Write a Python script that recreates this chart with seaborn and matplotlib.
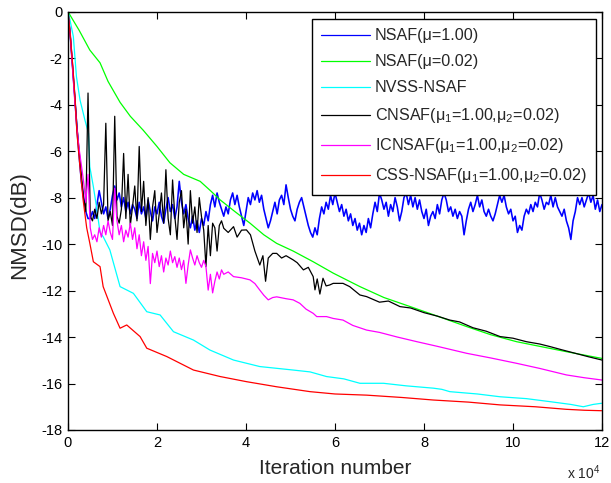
import numpy as np
import pandas as pd
import matplotlib
matplotlib.use("Agg")
import matplotlib.pyplot as plt
import seaborn as sns
from matplotlib.lines import Line2D

sns.set_style("ticks")
plt.rcParams['font.family'] = ['Liberation Sans', 'DejaVu Sans']
plt.rcParams['mathtext.fontset'] = 'custom'
plt.rcParams['mathtext.rm'] = 'Liberation Sans'
plt.rcParams['mathtext.it'] = 'Liberation Sans:italic'
plt.rcParams['mathtext.bf'] = 'Liberation Sans:bold'

# ---------------- data (x in units of 1e4 iterations, y in dB) ----------------
labels = ["NSAF(μ=1.00)", "NSAF(μ=0.02)", "NVSS-NSAF",
          "CNSAF(μ$_1$=1.00,μ$_2$=0.02)",
          "ICNSAF(μ$_1$=1.00,μ$_2$=0.02)",
          "CSS-NSAF(μ$_1$=1.00,μ$_2$=0.02)"]
colors = ["#0000ff", "#00ff00", "#00ffff", "#000000", "#ff00ff", "#ff0000"]

# NSAF(mu=1.00): sampled every 0.05e4 iterations from 0 to 12e4
nsaf1_x = np.round(np.arange(0, 241) * 0.05, 2)
nsaf1_y = [0, -1.0, -2.3, -3.6, -5.0, -6.2, -7.3, -8.0, -8.6, -8.9,
           -8.9, -8.6, -8.9, -8.3, -7.7, -8.2, -8.7, -8.4, -8.9, -8.5, -7.9, -7.5, -8.1, -7.8, -8.4, -8.0, -8.6, -8.2, -8.7, -8.3,
           -8.5, -8.9, -8.2, -8.7, -8.4, -8.9, -8.1, -8.6, -9.0, -8.4, -8.7, -8.2, -8.8, -9.1, -8.5, -8.0, -8.6, -8.3, -8.9, -8.4,
           -7.3, -8.2, -8.7, -8.3, -8.9, -9.3, -8.8, -9.4, -9.0, -9.5, -8.9, -9.2, -8.6, -9.0, -8.3, -7.9, -8.4, -7.8, -8.2, -8.5,
           -8.8, -8.4, -8.7, -8.1, -7.8, -8.3, -7.9, -8.4, -8.8, -9.2, -8.6, -8.0, -8.3, -7.8, -8.1, -7.7, -8.2, -7.9, -8.5, -8.9,
           -9.3, -9.0, -8.6, -8.2, -8.7, -8.1, -7.9, -8.3, -7.45, -8.0, -8.5, -8.8, -9.0, -8.5, -8.2, -8.0, -8.4, -8.8, -9.2, -9.5,
           -9.7, -9.3, -9.6, -8.9, -8.4, -8.7, -8.2, -8.5, -7.9, -8.3, -7.8, -8.2, -8.6, -8.3, -8.8, -8.5, -9.0, -8.7, -9.2, -8.9,
           -9.4, -9.1, -9.6, -9.2, -9.5, -8.9, -9.3, -8.7, -8.2, -8.6, -7.8, -8.1, -8.5, -8.2, -8.8, -8.3, -8.6, -8.0, -8.4, -9.0,
           -8.6, -8.0, -7.8, -8.3, -7.9, -8.4, -8.0, -8.5, -8.1, -8.6, -8.9, -8.5, -9.2, -8.8, -8.6, -8.9, -8.3, -8.7, -8.1, -7.8,
           -8.1, -8.6, -8.4, -8.8, -8.5, -8.9, -8.6, -8.8, -9.6, -9.0, -8.5, -8.2, -8.6, -8.3, -7.9, -8.4, -8.1, -8.6, -8.8, -8.5,
           -8.8, -9.0, -8.7, -8.3, -7.9, -8.2, -7.9, -8.4, -8.7, -8.5, -9.0, -8.8, -9.5, -9.2, -9.4, -8.8, -8.5, -8.7, -8.3, -8.6,
           -8.2, -8.4, -7.8, -8.1, -8.5, -8.2, -8.3, -7.9, -8.4, -8.0, -8.4, -8.6, -8.8, -8.5, -9.0, -9.3, -9.8, -9.0, -8.6, -8.0,
           -8.3, -8.0, -8.4, -8.1, -7.8, -8.2, -7.9, -8.5, -8.1, -8.6, -8.3]

# NSAF(mu=0.02)
nsaf002_x = [0, 0.25, 0.49, 0.72, 0.9, 1.17, 1.4, 1.69, 2.0, 2.29, 2.6, 2.97, 3.2, 3.42, 3.75,
             4.09, 4.4, 4.69, 5.06, 5.51, 5.96, 6.56, 7.1, 7.69, 8.3, 8.96, 9.5, 10.08, 10.6, 11.2, 12.0]
nsaf002_y = [0, -0.8, -1.65, -2.2, -3.0, -3.9, -4.5, -5.1, -5.8, -6.5, -7.0, -7.3, -7.7, -8.1, -8.6,
             -9.1, -9.6, -9.97, -10.3, -10.76, -11.25, -11.83, -12.3, -12.69, -13.1, -13.55, -13.9, -14.2, -14.4, -14.63, -14.92]

# NVSS-NSAF
nvss_x = [0, 0.045, 0.12, 0.19, 0.27, 0.38, 0.46, 0.49, 0.57, 0.64, 0.72, 0.79, 0.94, 1.17, 1.47,
          1.77, 2.07, 2.37, 2.82, 3.19, 3.72, 4.31, 5.06, 5.44, 5.81, 6.2, 6.56, 7.09, 7.6, 8.21,
          8.4, 8.58, 9.2, 9.71, 10.3, 10.83, 11.3, 11.58, 11.8, 11.99]
nvss_y = [0, -0.36, -1.07, -2.8, -3.8, -4.66, -5.23, -6.67, -7.53, -8.39, -9.5, -9.68, -10.25, -11.83, -12.12,
          -12.91, -13.05, -13.77, -14.13, -14.56, -14.99, -15.27, -15.42, -15.5, -15.7, -15.8, -15.99, -15.99, -16.1, -16.2,
          -16.25, -16.35, -16.45, -16.57, -16.65, -16.78, -16.9, -17.0, -16.9, -16.85]

# CNSAF: every 0.05e4 up to 3.5e4, then sparser
cnsaf_head_x = np.round(np.arange(0, 71) * 0.05, 2)
cnsaf_head_y = [0, -1.0, -2.3, -3.6, -4.9, -6.0, -7.0, -8.0, -8.6, -3.5, -8.8,
                -9.0, -8.5, -8.9, -8.2, -8.7, -8.3, -4.8, -9.0, -8.6, -9.2,
                -4.5, -8.8, -9.1, -8.5, -6.1, -8.9, -7.0, -9.2, -8.4, -7.5,
                -9.0, -5.8, -8.6, -7.3, -9.2, -8.0, -9.8, -8.4, -7.7, -9.5,
                -8.7, -7.8, -9.1, -6.8, -8.9, -9.6, -7.24, -8.8, -9.8, -8.2,
                -7.7, -9.3, -8.5, -10.0, -7.7, -9.1, -8.4, -9.5, -8.0, -8.82,
                -9.4, -10.97, -9.2, -10.5, -9.1, -9.3, -10.3, -9.2, -9.0, -9.32]
cnsaf_tail_x = [3.6, 3.72, 3.8, 3.9, 4.01, 4.1, 4.2, 4.31, 4.38, 4.44, 4.5, 4.6, 4.69, 4.8, 4.9,
                5.06, 5.15, 5.29, 5.4, 5.51, 5.55, 5.6, 5.66, 5.73, 5.8, 5.88, 5.96, 6.18, 6.33, 6.56,
                6.71, 7.0, 7.2, 7.46, 7.7, 8.0, 8.3, 8.58, 8.8, 9.1, 9.4, 9.71, 10.0, 10.3, 10.6, 10.83,
                11.1, 11.4, 11.7, 12.0]
cnsaf_tail_y = [-9.5, -9.25, -9.7, -9.4, -9.39, -9.6, -10.3, -10.9, -10.5, -11.6, -10.6, -10.4, -10.4, -10.6, -10.5,
                -10.68, -10.8, -11.11, -11.0, -11.4, -11.97, -11.5, -12.15, -11.47, -11.8, -11.76, -11.69, -11.69, -11.83, -12.19,
                -12.26, -12.5, -12.45, -12.69, -12.75, -12.95, -13.1, -13.27, -13.35, -13.6, -13.75, -13.98, -14.05, -14.2, -14.3, -14.41,
                -14.55, -14.7, -14.85, -14.99]

# ICNSAF
icnsaf_head_x = np.round(np.arange(0, 71) * 0.05, 2)
icnsaf_head_y = [0, -1.0, -2.4, -3.8, -5.0, -5.9, -6.6, -7.3, -8.2, -7.0, -9.3,
                 -9.8, -9.6, -9.9, -9.3, -9.7, -9.2, -9.6, -9.0, -9.5, -9.8,
                 -7.6, -9.0, -9.6, -9.2, -9.9, -9.4, -9.7, -9.1, -9.8, -9.3,
                 -10.2, -9.6, -10.5, -9.9, -10.7, -10.1, -11.7, -10.4, -10.8, -10.3,
                 -10.97, -10.5, -11.2, -10.6, -10.9, -10.3, -10.8, -10.54, -11.0, -10.6,
                 -11.1, -10.7, -11.69, -10.9, -10.25, -10.6, -10.9, -10.5, -10.8, -11.0,
                 -10.7, -10.97, -11.98, -11.3, -12.1, -11.6, -11.2, -11.5, -11.11, -11.3]
icnsaf_tail_x = [3.6, 3.72, 3.9, 4.09, 4.2, 4.31, 4.4, 4.5, 4.6, 4.69, 4.9, 5.06, 5.21, 5.35, 5.51,
                 5.59, 5.81, 5.96, 6.18, 6.4, 6.71, 7.0, 7.4, 7.84, 8.3, 8.96, 9.5, 10.08, 10.6, 11.2, 11.6, 12.0]
icnsaf_tail_y = [-11.2, -11.4, -11.45, -11.54, -11.7, -11.98, -12.2, -12.4, -12.3, -12.27, -12.35, -12.4, -12.55, -12.8, -12.98,
                 -13.12, -13.12, -13.2, -13.27, -13.5, -13.7, -13.8, -14.0, -14.2, -14.4, -14.7, -14.9, -15.13, -15.35, -15.63, -15.75, -15.85]

# CSS-NSAF
css_x = [0, 0.045, 0.11, 0.16, 0.2, 0.27, 0.34, 0.42, 0.49, 0.57, 0.72, 0.79, 1.02, 1.17, 1.32,
         1.62, 1.77, 2.22, 2.82, 3.42, 4.01, 4.69, 5.44, 6.0, 6.71, 7.5, 8.21, 9.0, 9.71, 10.5, 11.2, 11.6, 11.99]
css_y = [0, -0.9, -2.4, -3.8, -5.2, -6.7, -8.1, -9.3, -9.96, -10.76, -10.97, -11.83, -12.98, -13.62, -13.48,
         -13.98, -14.48, -14.84, -15.42, -15.7, -15.92, -16.14, -16.35, -16.45, -16.5, -16.6, -16.71, -16.8, -16.92, -17.0, -17.11, -17.15, -17.17]

xticks = [0, 2, 4, 6, 8, 10, 12]
yticks = [0, -2, -4, -6, -8, -10, -12, -14, -16, -18]

# ---------------- build long-form table ----------------
series_x = [list(nsaf1_x), nsaf002_x, nvss_x,
            list(cnsaf_head_x) + cnsaf_tail_x,
            list(icnsaf_head_x) + icnsaf_tail_x,
            css_x]
series_y = [nsaf1_y, nsaf002_y, nvss_y,
            cnsaf_head_y + cnsaf_tail_y,
            icnsaf_head_y + icnsaf_tail_y,
            css_y]
frames = []
for lab, xs, ys in zip(labels, series_x, series_y):
    frames.append(pd.DataFrame({"iter": xs, "nmsd": ys, "algo": lab}))
df = pd.concat(frames, ignore_index=True)

# ---------------- figure ----------------
fig = plt.figure(figsize=(6.11, 4.83), dpi=100)
ax = fig.add_axes([68 / 611, 1 - 430 / 483, 534 / 611, 418.3 / 483])

sns.lineplot(data=df, x="iter", y="nmsd", hue="algo", hue_order=labels,
             palette=dict(zip(labels, colors)), estimator=None, sort=False,
             linewidth=0.9, ax=ax, legend=False)
ax.get_lines()[0].set_linewidth(1.15)

ax.set_xlim(0, 12)
ax.set_ylim(-18, 0)
ax.set_xticks(xticks)
ax.set_yticks(yticks)
ax.set_xticklabels([str(t) for t in xticks])
ax.set_yticklabels([str(t) for t in yticks])
ax.tick_params(direction="in", top=True, right=True, length=5, width=0.8,
               labelsize=10.5, pad=4, colors="black")
for s in ax.spines.values():
    s.set_linewidth(1.0)
    s.set_color("black")
    s.set_visible(True)

ax.set_xlabel("Iteration number", fontsize=15)
ax.set_ylabel("NMSD(dB)", fontsize=16)
ax.xaxis.set_label_coords(0.5, -0.07)
ax.yaxis.set_label_coords(-0.07, 0.49)

fig.text(567 / 611, 1 - 479 / 483, r"x 10$^{4}$", fontsize=10, ha="left", va="baseline")

handles = [Line2D([0], [0], color=c, lw=0.9) for c in colors]
leg = ax.legend(handles, labels, loc="upper right", bbox_to_anchor=(0.989, 0.983),
                fontsize=11.6, frameon=True, fancybox=False, framealpha=1,
                edgecolor="black", handlelength=3.0, handletextpad=0.3,
                labelspacing=0.68, borderpad=0.6, borderaxespad=0)
leg.get_frame().set_linewidth(1.0)

fig.savefig("out.png", dpi=100)
